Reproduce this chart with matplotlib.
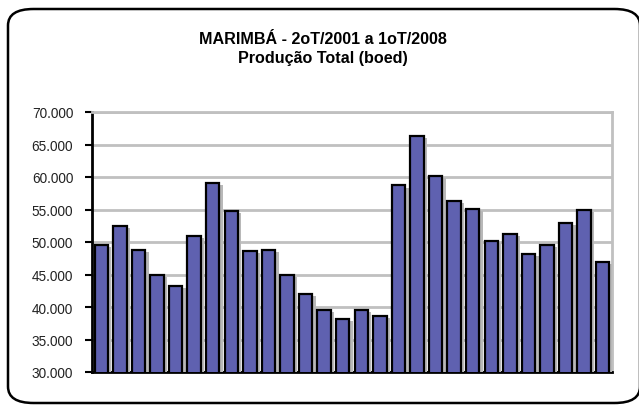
import numpy as np
import matplotlib
matplotlib.use('Agg')
import matplotlib.pyplot as plt
import matplotlib.patheffects as pe
from matplotlib.patches import FancyBboxPatch
from matplotlib.ticker import FuncFormatter

# quarterly production, 2Q2001 .. 1Q2008 (boed)
quarters = ['2T01', '3T01', '4T01',
            '1T02', '2T02', '3T02', '4T02',
            '1T03', '2T03', '3T03', '4T03',
            '1T04', '2T04', '3T04', '4T04',
            '1T05', '2T05', '3T05', '4T05',
            '1T06', '2T06', '3T06', '4T06',
            '1T07', '2T07', '3T07', '4T07',
            '1T08']
production = [49600, 52400, 48800, 45000, 43200, 51000, 59100, 54800,
              48600, 48800, 45000, 42000, 39600, 38100, 39600, 38600,
              58700, 66300, 60100, 56300, 55100, 50100, 51300, 48200,
              49600, 52900, 54900, 47000]
yticks = [30000, 35000, 40000, 45000, 50000, 55000, 60000, 65000, 70000]

plt.rcParams['font.family'] = ['Liberation Sans', 'DejaVu Sans']

fig = plt.figure(figsize=(6.39, 4.10), dpi=100)

# rounded outer frame
frame = FancyBboxPatch((8/639, 1 - 404/410), 640/639 - 8/639, 394/410,
                       boxstyle='round,pad=0,rounding_size=0.04',
                       transform=fig.transFigure, fc='white', ec='black',
                       lw=1.8, zorder=-5)
fig.patches.append(frame)

fig.text(0.505, 1 - 39/410, 'MARIMBÁ - 2oT/2001 a 1oT/2008',
         ha='center', va='center', fontsize=11.6, fontweight='bold')
fig.text(0.505, 1 - 58/410, 'Produção Total (boed)',
         ha='center', va='center', fontsize=11.6, fontweight='bold')

ax = fig.add_axes([92/639, 1 - 373/410, (612 - 92)/639, (373 - 113)/410])
ax.patch.set_alpha(0)
x = np.arange(len(production))
bars = ax.bar(x, production, width=0.72, color='#5f61b0',
              edgecolor='black', linewidth=1.6, zorder=3)
for b in bars:
    b.set_path_effects([pe.SimplePatchShadow(offset=(2.5, -1.5),
                                             shadow_rgbFace='#b8b8b8', alpha=1),
                        pe.Normal()])

ax.set_xlim(-0.5, len(production) - 0.5)
ax.set_ylim(30000, 70000)
ax.set_yticks(yticks)
ax.yaxis.set_major_formatter(FuncFormatter(lambda v, p: f'{int(v):,}'.replace(',', '.')))
ax.set_xticks([])
ax.yaxis.grid(True, color='#c0c0c0', lw=2, zorder=0)
ax.set_axisbelow(True)

ax.spines['left'].set_color('black')
ax.spines['left'].set_linewidth(2)
ax.spines['bottom'].set_color('black')
ax.spines['bottom'].set_linewidth(2)
ax.spines['top'].set_color('#c0c0c0')
ax.spines['top'].set_linewidth(2)
ax.spines['right'].set_color('#c0c0c0')
ax.spines['right'].set_linewidth(2)
ax.tick_params(axis='y', direction='out', length=5, width=1.5,
               labelsize=9.8, pad=8.5, colors='black')
for lbl in ax.get_yticklabels():
    lbl.set_color('#222222')

fig.savefig('out.png', dpi=100)
